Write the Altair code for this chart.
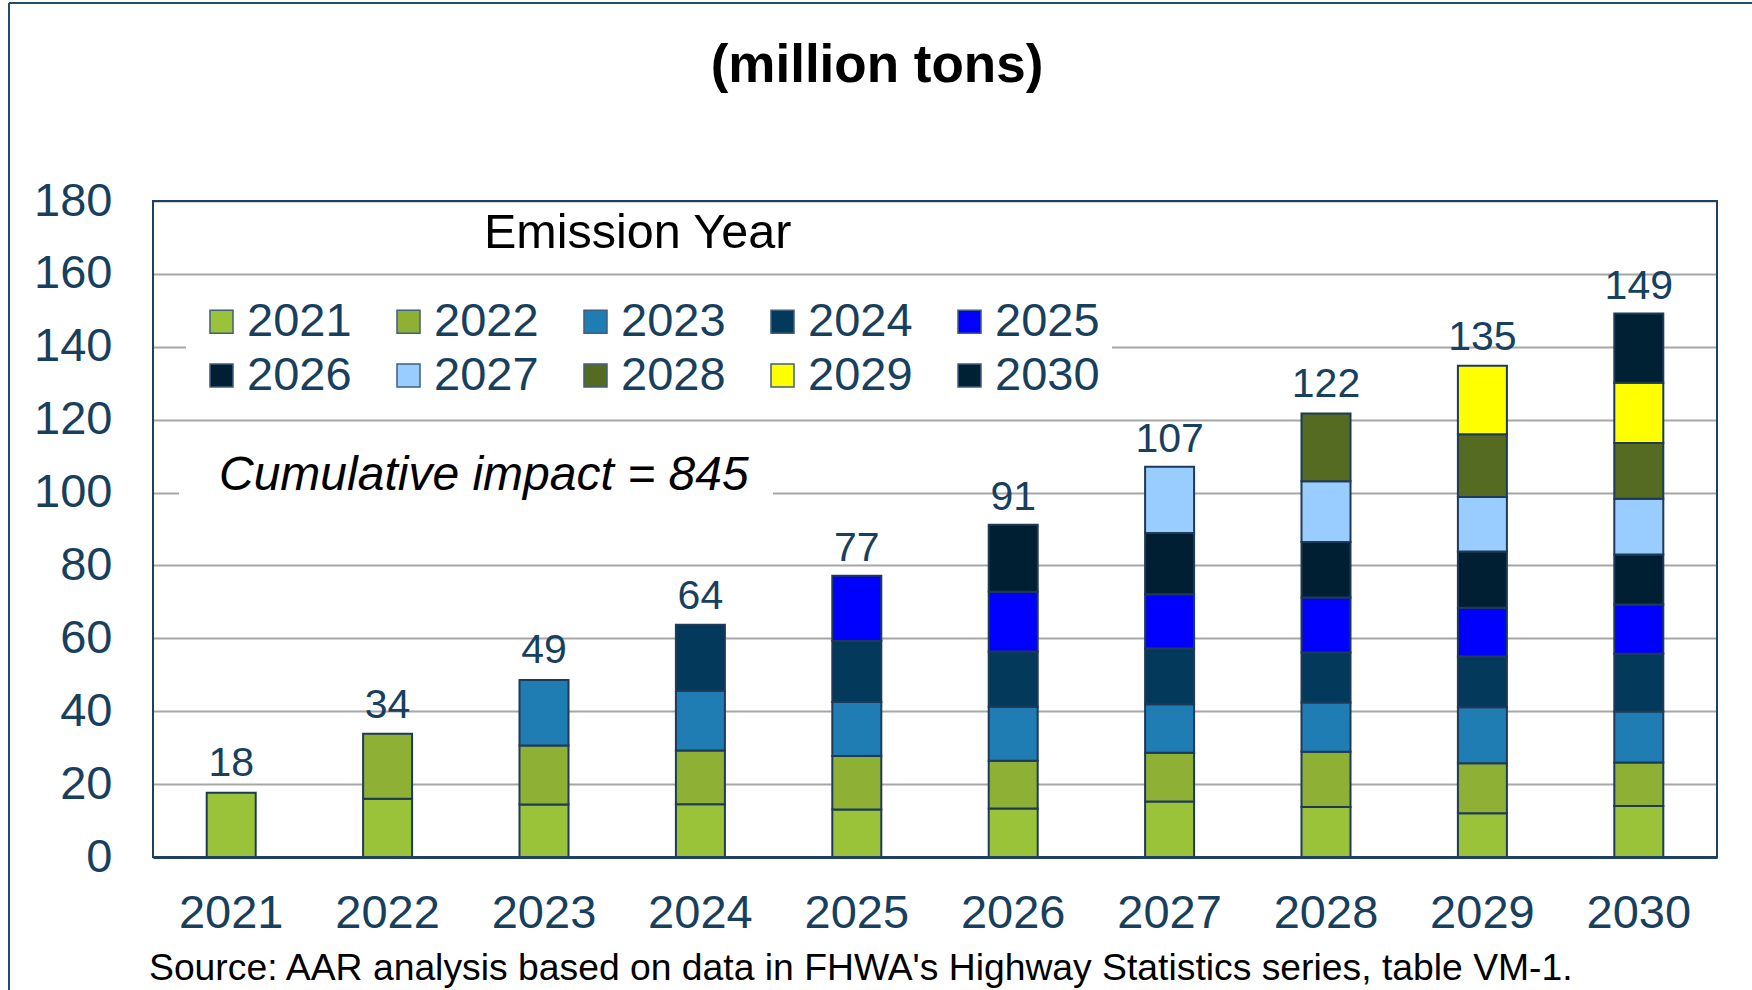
import altair as alt
import pandas as pd

# ---- data ----
bar_years = ["2021", "2022", "2023", "2024", "2025", "2026", "2027", "2028", "2029", "2030"]
emission_years = ["2021", "2022", "2023", "2024", "2025", "2026", "2027", "2028", "2029", "2030"]

s2021 = [17.6, 16.0, 14.4, 14.5, 13.0, 13.3, 15.2, 13.7, 12.0, 14.0]
s2022 = [None, 17.8, 16.2, 14.7, 14.7, 13.1, 13.4, 15.2, 13.7, 11.9]
s2023 = [None, None, 18.0, 16.4, 14.8, 14.8, 13.3, 13.5, 15.4, 14.0]
s2024 = [None, None, None, 18.1, 16.8, 15.2, 15.3, 13.7, 13.9, 15.9]
s2025 = [None, None, None, None, 17.9, 16.4, 14.9, 15.1, 13.4, 13.5]
s2026 = [None, None, None, None, None, 18.4, 16.8, 15.2, 15.4, 13.7]
s2027 = [None, None, None, None, None, None, 18.2, 16.7, 15.0, 15.3]
s2028 = [None, None, None, None, None, None, None, 18.6, 17.2, 15.3]
s2029 = [None, None, None, None, None, None, None, None, 18.8, 16.5]
s2030 = [None, None, None, None, None, None, None, None, None, 19.0]

totals = [18, 34, 49, 64, 77, 91, 107, 122, 135, 149]

colors = ["#9BC33A", "#8DB035", "#1F7DB4", "#03395B", "#0000FF",
          "#001F33", "#99CCFF", "#556B21", "#FFFF00", "#002033"]

title_text = "(million tons)"
legend_title = "Emission Year"
cumulative_text = "Cumulative impact = 845"
source_text = "Source: AAR analysis based on data in FHWA's Highway Statistics series, table VM-1."

# ---- build tables ----
series = [s2021, s2022, s2023, s2024, s2025, s2026, s2027, s2028, s2029, s2030]
rows = []
for ei, (ey, vals) in enumerate(zip(emission_years, series)):
    for by, v in zip(bar_years, vals):
        if v is not None:
            rows.append({"bar_year": by, "emission": ey, "value": v, "ord": ei})
df = pd.DataFrame(rows)
tot_df = pd.DataFrame({"bar_year": bar_years, "total": totals})
one = pd.DataFrame({"k": [0]})

FONT = "Liberation Sans"
TXT = "#17405E"
FRAME = "#1F4060"
W, H = 1564, 656

x_enc = alt.X("bar_year:N", sort=bar_years,
              scale=alt.Scale(paddingInner=0, paddingOuter=0),
              axis=alt.Axis(title=None, labelAngle=0, labelFont=FONT, labelFontSize=47,
                            labelColor=TXT, labelPadding=33, ticks=False, grid=False,
                            domain=True, domainColor=FRAME, domainWidth=3))
y_scale = alt.Scale(domain=[0, 180], nice=False)

bars = alt.Chart(df).mark_bar(size=49, stroke="#1F3A57", strokeWidth=2).encode(
    x=x_enc,
    y=alt.Y("value:Q", stack="zero", scale=y_scale,
            axis=alt.Axis(title=None, values=list(range(0, 181, 20)), labelFont=FONT,
                          labelFontSize=47, labelColor=TXT, labelPadding=41, ticks=False,
                          domain=False, grid=True, gridColor="#A6A6A6", gridWidth=2)),
    color=alt.Color("emission:N",
                    scale=alt.Scale(domain=emission_years, range=colors),
                    legend=alt.Legend(orient="none", legendX=33, legendY=85, direction="horizontal",
                                      columns=5, title=None, symbolType="square", symbolSize=530,
                                      symbolStrokeColor="#3F5F7F", symbolStrokeWidth=1.5,
                                      symbolOpacity=1, labelFont=FONT, labelFontSize=47,
                                      labelColor=TXT, labelOffset=2, labelLimit=300,
                                      columnPadding=33, rowPadding=6, fillColor="white",
                                      padding=12)),
    order=alt.Order("ord:Q", sort="ascending"),
)

labels = alt.Chart(tot_df).mark_text(font=FONT, fontSize=41, color=TXT, baseline="alphabetic",
                                     dy=-15).encode(
    x=alt.X("bar_year:N", sort=bar_years),
    y=alt.Y("total:Q", scale=y_scale),
    text=alt.Text("total:Q", format="d"),
)

frame = alt.Chart(one).mark_rect(filled=False, stroke=FRAME, strokeWidth=2).encode(
    x=alt.value(0), x2=alt.value(W), y=alt.value(0), y2=alt.value(H))

title = alt.Chart(one).mark_text(text=title_text, font=FONT, fontSize=53, fontWeight="bold",
                                 color="black", align="center", baseline="middle").encode(
    x=alt.value(724), y=alt.value(-135))

leg_title = alt.Chart(one).mark_text(text=legend_title, font=FONT, fontSize=48.5, color="black",
                                     align="left", baseline="middle").encode(
    x=alt.value(331), y=alt.value(32))

cum_bg = alt.Chart(one).mark_rect(color="white").encode(
    x=alt.value(26), x2=alt.value(620), y=alt.value(248), y2=alt.value(300))

cum_text = alt.Chart(one).mark_text(text=cumulative_text, font=FONT, fontSize=48, fontStyle="italic",
                                    color="black", align="left", baseline="middle").encode(
    x=alt.value(66), y=alt.value(275))

source = alt.Chart(one).mark_text(text=source_text, font=FONT, fontSize=37.3, color="black",
                                  align="left", baseline="middle").encode(
    x=alt.value(-4), y=alt.value(768))

border_top = alt.Chart(one).mark_rule(color="#1F4E6E", strokeWidth=2).encode(
    x=alt.value(-144), x2=alt.value(1620), y=alt.value(-198))
border_left = alt.Chart(one).mark_rule(color="#1F4E6E", strokeWidth=2).encode(
    x=alt.value(-144), y=alt.value(-198), y2=alt.value(800))

chart = alt.layer(
    cum_bg, bars, labels, frame, cum_text, leg_title, title, source, border_top, border_left
).properties(
    width=W, height=H,
    autosize=alt.AutoSizeParams(type="none"),
    padding={"left": 153, "top": 201, "right": 35, "bottom": 133},
).configure_view(stroke=FRAME, strokeWidth=2).configure(background="white")

chart.save("out.html", embed_options={"renderer": "svg", "actions": False})
